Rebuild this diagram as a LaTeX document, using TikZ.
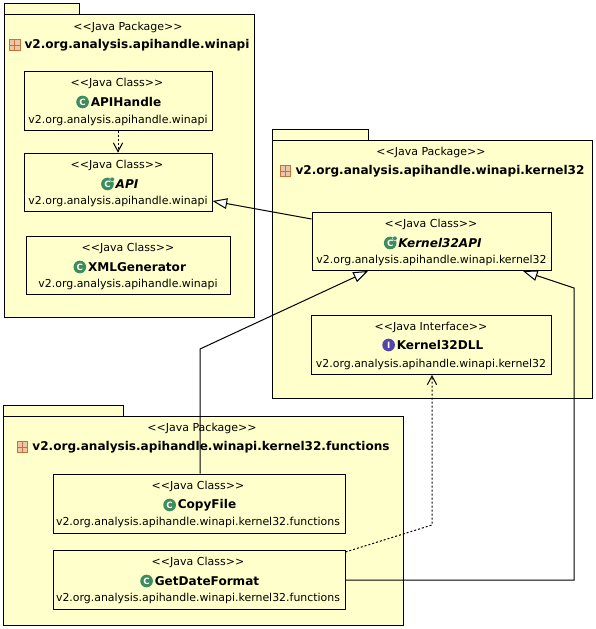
\documentclass[tikz,border=0pt]{standalone}
\usepackage{fontspec}
\setmainfont{DejaVu Sans}
\usepackage{tikz}
\usetikzlibrary{arrows.meta,positioning}
\definecolor{myYellow}{rgb}{1,1,0.8}
\definecolor{myGreen}{rgb}{0.24,0.55,0.36}
\definecolor{myBlue}{rgb}{0.33,0.27,0.66}
\definecolor{myOrange}{rgb}{0.78,0.45,0.22}
\newcommand{\stereotype}[1]{<\kern0pt<#1>\kern0pt>}
\begin{document}
\begin{tikzpicture}[x=0.75pt,y=-0.75pt,>=Straight Barb]
\tikzstyle{pkg}=[draw=black, fill=myYellow, line width=0.75pt, inner sep=0pt]
\tikzstyle{cls}=[draw=black, fill=myYellow, line width=0.75pt, inner sep=0pt]
\tikzstyle{stereo}=[font=\fontsize{8.25}{10}\selectfont, inner sep=0pt, yshift=-0.75pt]
\tikzstyle{qual}=[font=\fontsize{8.2}{10}\selectfont, inner sep=0pt, yshift=-0.4pt]
\tikzstyle{title}=[font=\fontsize{9.05}{11}\selectfont\bfseries, inner sep=0pt, yshift=-0.75pt]
\tikzstyle{ctitle}=[font=\fontsize{9.05}{11}\selectfont\bfseries, inner sep=0pt, yshift=-0.75pt]
\tikzstyle{atitle}=[font=\fontsize{9.05}{11}\selectfont\bfseries\itshape, inner sep=0pt, yshift=-0.75pt]
\tikzstyle{cicon}=[circle, fill=myGreen, minimum size=9.5pt, inner sep=0pt, text=white, font=\fontsize{6.5}{7}\selectfont\bfseries]
\tikzstyle{iicon}=[circle, fill=myBlue, minimum size=9.5pt, inner sep=0pt, text=white, font=\fontsize{6.5}{7}\selectfont\bfseries]
\tikzstyle{amark}=[circle, fill=myGreen, draw=white, line width=0.3pt, minimum size=3.5pt, inner sep=0pt]
\tikzstyle{picon}=[draw=myOrange, fill=myOrange!40, minimum size=8pt, inner sep=0pt, line width=0.6pt,
  path picture={\draw[myOrange, line width=0.5pt] (path picture bounding box.north) -- (path picture bounding box.south)
  (path picture bounding box.west) -- (path picture bounding box.east);}]
\tikzstyle{inherit}=[-{Triangle[open,fill=white,length=11pt,width=8pt]}, line width=0.75pt]
\tikzstyle{depend}=[-{Straight Barb[length=6.5pt,width=7pt]}, line width=0.75pt, dash pattern=on 1.5pt off 1.5pt]
\useasboundingbox (0,0) rectangle (596,629);
\fill[white] (0,0) rectangle (596,629);
% package winapi
\node[pkg, minimum width=56.25pt, minimum height=8.25pt] (tabA) at (41.5,8.5) {};
\node[pkg, minimum width=187.5pt, minimum height=227.25pt] (pkgA) at (129,165.5) {};
\node[stereo] (pkgAs) at (128,26) {\stereotype{Java Package}};
\node[title] (pkgAt) at (137,44) {v2.org.analysis.apihandle.winapi};
\node[picon, left=3pt of pkgAt] (pkgAi) {};
% package kernel32
\node[pkg, minimum width=72pt, minimum height=8.25pt] (tabB) at (320,134.5) {};
\node[pkg, minimum width=240pt, minimum height=193.5pt] (pkgB) at (432,269) {};
\node[stereo] (pkgBs) at (431,151) {\stereotype{Java Package}};
\node[title] (pkgBt) at (440,170) {v2.org.analysis.apihandle.winapi.kernel32};
\node[picon, left=3pt of pkgBt] (pkgBi) {};
% package functions
\node[pkg, minimum width=90pt, minimum height=8.25pt] (tabC) at (63,410.5) {};
\node[pkg, minimum width=300pt, minimum height=156.75pt] (pkgC) at (203,520.5) {};
\node[stereo] (pkgCs) at (202,427) {\stereotype{Java Package}};
\node[title] (pkgCt) at (211,446) {v2.org.analysis.apihandle.winapi.kernel32.functions};
\node[picon, left=3pt of pkgCt] (pkgCi) {};
% classes
\node[cls, minimum width=141pt, minimum height=44.25pt] (apihandle) at (118,100.5) {};
\node[stereo] at (117,82) {\stereotype{Java Class}};
\node[ctitle] (apihandleT) at (126,101) {APIHandle};
\node[cicon, left=1pt of apihandleT] {C};
\node[qual] at (118,119.5) {v2.org.analysis.apihandle.winapi};
\node[cls, minimum width=141pt, minimum height=43.5pt] (api) at (118,182) {};
\node[stereo] at (117,164) {\stereotype{Java Class}};
\node[atitle] (apiT) at (127,183) {API};
\node[cicon, left=1pt of apiT] (apiI) {C};
\node[amark] at (apiI.north east) {};
\node[qual] at (118,201) {v2.org.analysis.apihandle.winapi};
\node[cls, minimum width=153pt, minimum height=43.5pt] (xmlgen) at (128,265) {};
\node[stereo] at (128,247) {\stereotype{Java Class}};
\node[ctitle] (xmlgenT) at (137,266) {XMLGenerator};
\node[cicon, left=1pt of xmlgenT] {C};
\node[qual] at (128,284) {v2.org.analysis.apihandle.winapi};
\node[cls, minimum width=179.25pt, minimum height=43.5pt] (kernelapi) at (431.5,241) {};
\node[stereo] at (431,223) {\stereotype{Java Class}};
\node[atitle] (kernelapiT) at (440,242) {Kernel32API};
\node[cicon, left=1pt of kernelapiT] (kernelapiI) {C};
\node[amark] at (kernelapiI.north east) {};
\node[qual] at (431.5,260) {v2.org.analysis.apihandle.winapi.kernel32};
\node[cls, minimum width=180pt, minimum height=44.25pt] (kerneldll) at (431,344.5) {};
\node[stereo] at (431,326) {\stereotype{Java Interface}};
\node[ctitle] (kerneldllT) at (440,344) {Kernel32DLL};
\node[iicon, left=1pt of kerneldllT] {I};
\node[qual] at (431,364) {v2.org.analysis.apihandle.winapi.kernel32};
\node[cls, minimum width=219pt, minimum height=44.25pt] (copyfile) at (199,503.5) {};
\node[stereo] at (198,485) {\stereotype{Java Class}};
\node[ctitle] (copyfileT) at (207,504) {CopyFile};
\node[cicon, left=1pt of copyfileT] {C};
\node[qual] at (198,522) {v2.org.analysis.apihandle.winapi.kernel32.functions};
\node[cls, minimum width=219pt, minimum height=44.25pt] (getdate) at (199,579.5) {};
\node[stereo] at (198,561) {\stereotype{Java Class}};
\node[ctitle] (getdateT) at (207,580) {GetDateFormat};
\node[cicon, left=1pt of getdateT] {C};
\node[qual] at (198,598) {v2.org.analysis.apihandle.winapi.kernel32.functions};
% connectors
\draw[depend] (apihandle.south) -- (api.north);
\draw[inherit] (kernelapi.west |- 0,219) -- (api.east |- 0,201);
\draw[inherit] ([xshift=0.75pt]copyfile.north) -- (200,349) -- (368,271);
\draw[inherit] (getdate.east |- 0,580) -- (574,580) -- (574,288) -- (523,271);
\draw[depend] (getdate.east |- 0,552) -- (432,525) -- (432,375);
\end{tikzpicture}
\end{document}
